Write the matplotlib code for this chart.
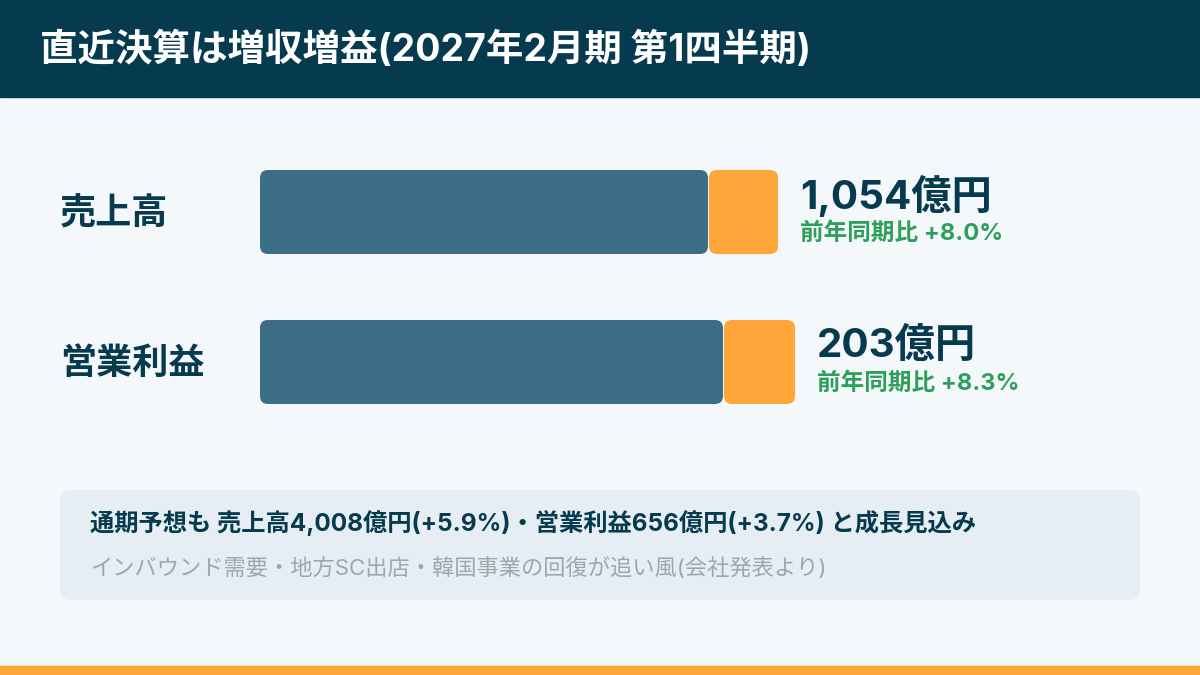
import matplotlib
matplotlib.use("Agg")
import matplotlib.pyplot as plt
from matplotlib.patches import FancyBboxPatch, Rectangle

plt.rcParams['font.family'] = ['Inter', 'Noto Sans CJK JP', 'DejaVu Sans']

categories = ["売上高", "営業利益"]
base_len = [448, 463]       # prior-year portion (bar length units)
incr_len = [70, 72]         # increase portion
value_labels = ["1,054億円", "203億円"]
growth_labels = ["前年同期比 +8.0%", "前年同期比 +8.3%"]
title = "直近決算は増収増益(2027年2月期 第1四半期)"
note1 = "通期予想も 売上高4,008億円(+5.9%)・営業利益656億円(+3.7%) と成長見込み"
note2 = "インバウンド需要・地方SC出店・韓国事業の回復が追い風(会社発表より)"

DARK = "#063A4F"; BAR = "#3D6E87"; ORG = "#FFA63A"; GRN = "#2E9E5B"

fig = plt.figure(figsize=(12, 6.75), dpi=100)
fig.patch.set_facecolor("#F4F8FB")
ax = fig.add_axes([0, 0, 1, 1])
ax.set_xlim(0, 1200); ax.set_ylim(675, 0); ax.axis("off")

ax.add_patch(Rectangle((0, 0), 1200, 97, color=DARK))
ax.text(40, 50, title, color="white", fontsize=27, fontweight="bold", va="center")
ax.add_patch(Rectangle((0, 666), 1200, 9, color=ORG))

x0 = 260
centers = [212, 362]
for i, cat in enumerate(categories):
    yc = centers[i]; h = 84
    b = base_len[i]; d = incr_len[i]
    ax.add_patch(FancyBboxPatch((x0, yc - h/2), b, h, boxstyle="round,pad=0,rounding_size=8",
                                fc=BAR, ec="none"))
    ax.add_patch(FancyBboxPatch((x0 + b + 1, yc - h/2), d - 1, h, boxstyle="round,pad=0,rounding_size=8",
                                fc=ORG, ec="none"))
    ax.text(60, yc + 2, cat, fontsize=26, fontweight="bold", color=DARK, va="center")
    tx = x0 + b + d + 22
    ax.text(tx, yc - 16, value_labels[i], fontsize=29, fontweight="bold", color=DARK, va="center")
    ax.text(tx, yc + 22, growth_labels[i], fontsize=17, fontweight="bold", color=GRN, va="center")

ax.add_patch(FancyBboxPatch((60, 490), 1080, 110, boxstyle="round,pad=0,rounding_size=12",
                            fc="#E6EEF4", ec="none"))
ax.text(90, 523, note1, fontsize=17.5, fontweight="bold", color=DARK, va="center")
ax.text(90, 568, note2, fontsize=16, color="#9AA7B2", va="center")

fig.savefig("out.png", dpi=100, facecolor=fig.get_facecolor())
